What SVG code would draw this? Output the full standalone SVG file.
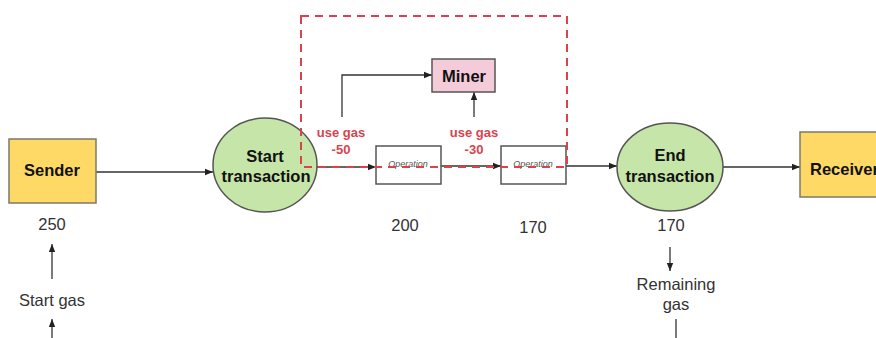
<svg xmlns="http://www.w3.org/2000/svg" width="876" height="338" viewBox="0 0 876 338">
<defs>
<marker id="ah" viewBox="0 0 10 10" refX="10" refY="5" markerWidth="8" markerHeight="8" markerUnits="userSpaceOnUse" orient="auto">
<path d="M0,1 L10,5 L0,9 z" fill="#222"/>
</marker>
<style>
.conn{fill:none;stroke:#333;stroke-width:1.3}
.box{fill:#ffd966;stroke:#7a7a6a;stroke-width:1.5}
.ell{fill:#c6e5a8;stroke:#555;stroke-width:1.5}
.op{fill:#fff;stroke:#555;stroke-width:1.5}
.bt{font-family:"Liberation Sans",Arial,sans-serif;font-weight:bold;font-size:16.5px;fill:#111;text-anchor:middle}
.lbl{font-family:"Liberation Sans",Arial,sans-serif;font-size:16.5px;fill:#333;text-anchor:middle}
.opt{font-family:"Liberation Sans",Arial,sans-serif;font-style:italic;font-size:9px;fill:#555;text-anchor:middle}
.red{font-family:"Liberation Sans",Arial,sans-serif;font-weight:bold;font-size:13px;fill:#d9434e;text-anchor:middle}
</style>
</defs>
<rect width="876" height="338" fill="#fff"/>
<g id="connectors">
<line class="conn" x1="96" y1="172" x2="213" y2="172" marker-end="url(#ah)"/>
<line class="conn" x1="317" y1="167" x2="376" y2="167" marker-end="url(#ah)"/>
<line class="conn" x1="441" y1="166" x2="501" y2="166" marker-end="url(#ah)"/>
<line class="conn" x1="566" y1="166" x2="617" y2="166" marker-end="url(#ah)"/>
<line class="conn" x1="723" y1="167" x2="800" y2="167" marker-end="url(#ah)"/>
<polyline class="conn" points="342,117 342,75 432,75" marker-end="url(#ah)"/>
<line class="conn" x1="474" y1="117" x2="474" y2="92" marker-end="url(#ah)"/>
<line class="conn" x1="52" y1="279" x2="52" y2="244" marker-end="url(#ah)"/>
<line class="conn" x1="52" y1="338" x2="52" y2="319" marker-end="url(#ah)"/>
<line class="conn" x1="670" y1="247" x2="670" y2="271" marker-end="url(#ah)"/>
<line class="conn" x1="676" y1="319" x2="676" y2="338"/>
</g>
<g id="sender">
<rect class="box" x="9" y="139" width="87" height="64"/>
<text class="bt" x="52" y="176">Sender</text>
<text class="lbl" x="52" y="230">250</text>
</g>
<g id="startgas">
<text class="lbl" x="52" y="306">Start gas</text>
</g>
<g id="start">
<ellipse class="ell" cx="265" cy="165" rx="52" ry="47"/>
<text class="bt" x="265" y="162">Start</text>
<text class="bt" x="266" y="182">transaction</text>
</g>
<g id="op1">
<rect class="op" x="376" y="146" width="65" height="38"/>
<text class="opt" x="408" y="167">Operation</text>
<text class="lbl" x="405" y="231">200</text>
</g>
<g id="op2">
<rect class="op" x="501" y="146" width="65" height="38"/>
<text class="opt" x="533" y="167">Operation</text>
<text class="lbl" x="533" y="233">170</text>
</g>
<g id="miner">
<rect x="432" y="59" width="63" height="33" fill="#f4cbd8" stroke="#555" stroke-width="1.5"/>
<text class="bt" x="464" y="82">Miner</text>
</g>
<g id="gaslabels">
<text class="red" x="341" y="137">use gas</text>
<text class="red" x="341" y="154">-50</text>
<text class="red" x="474" y="137">use gas</text>
<text class="red" x="474" y="154">-30</text>
</g>
<g id="end">
<ellipse class="ell" cx="670" cy="167" rx="53" ry="44"/>
<text class="bt" x="670" y="161">End</text>
<text class="bt" x="670" y="182">transaction</text>
<text class="lbl" x="671" y="231">170</text>
</g>
<g id="remaining">
<text class="lbl" x="676" y="290">Remaining</text>
<text class="lbl" x="676" y="310">gas</text>
</g>
<g id="receiver">
<rect class="box" x="800" y="132" width="90" height="65"/>
<text class="bt" x="810" y="175" style="text-anchor:start">Receiver</text>
</g>
<g id="minerzone">
<rect x="301" y="16" width="266" height="151" fill="none" stroke="#d9434e" stroke-width="2" stroke-dasharray="8,6"/>
</g>
</svg>
